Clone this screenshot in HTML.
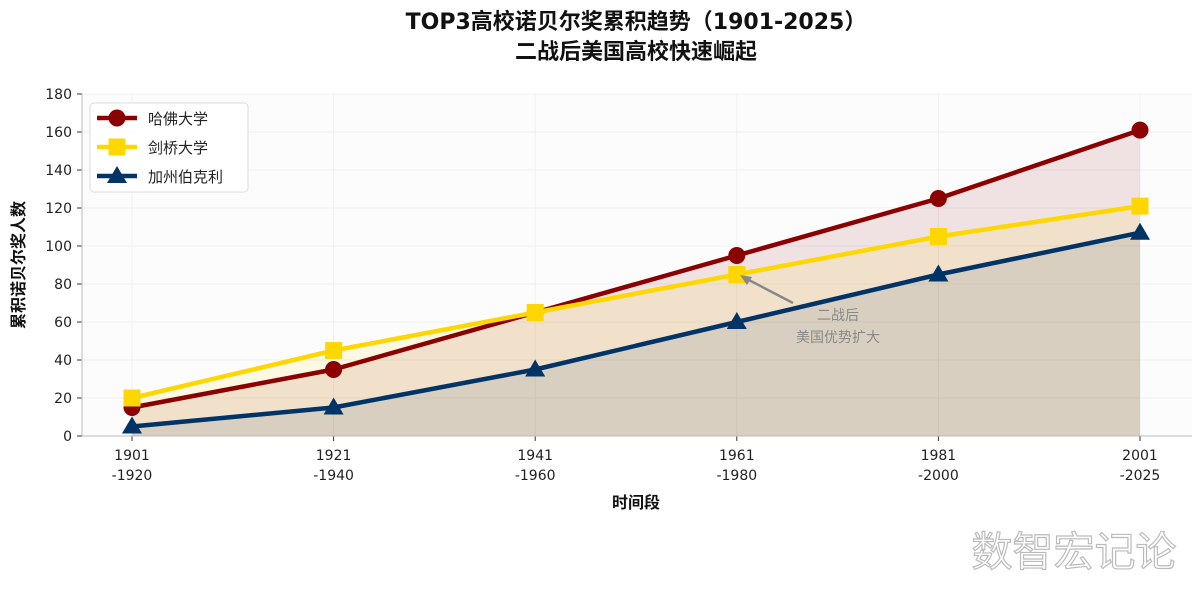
<!DOCTYPE html>
<html><head><meta charset="utf-8"><style>
body{margin:0;background:#fff;}
svg text{font-family:"DejaVu Sans","Noto Sans CJK SC",sans-serif;}
</style></head><body>
<svg id="c" width="1200" height="600" xmlns="http://www.w3.org/2000/svg">
<text x="636" y="29" text-anchor="middle" font-size="22" font-weight="bold" fill="#111">TOP3高校诺贝尔奖累积趋势（1901-2025）</text>
<text x="636" y="59" text-anchor="middle" font-size="22" font-weight="bold" fill="#111">二战后美国高校快速崛起</text>
<rect x="82" y="94" width="1110" height="342" fill="#fcfcfc"/>
<g id="grid"></g><g id="fills"></g><g id="lines"></g><g id="axes"></g>
<text x="24" y="265" text-anchor="middle" font-size="16" font-weight="bold" fill="#111" transform="rotate(-90 24 265)">累积诺贝尔奖人数</text>
<text x="636" y="508" text-anchor="middle" font-size="16" font-weight="bold" fill="#111">时间段</text>
<g>
<line x1="793" y1="303" x2="745" y2="278" stroke="#888" stroke-width="2.5"/>
<polygon points="740,275 752,277 747,285" fill="#888"/>
<text x="838" y="320" text-anchor="middle" font-size="14" fill="#888">二战后</text>
<text x="838" y="342" text-anchor="middle" font-size="14" fill="#888">美国优势扩大</text>
</g>
<rect x="90" y="103" width="158" height="89" rx="4" fill="#fff" fill-opacity="0.9" stroke="#ddd"/>
<g id="legend"></g>
<text x="1074" y="566" text-anchor="middle" font-size="41" fill="#fff" stroke="#bbb" stroke-width="1.2">数智宏记论</text>
</svg>
<script>
const categories=["1901\n-1920","1921\n-1940","1941\n-1960","1961\n-1980","1981\n-2000","2001\n-2025"];
const harvard=[15,35,65,95,125,161];
const cambridge=[20,45,65,85,105,121];
const berkeley=[5,15,35,60,85,107];
const seriesNames=["哈佛大学","剑桥大学","加州伯克利"];
const yTicks=[0,20,40,60,80,100,120,140,160,180];
const NS="http://www.w3.org/2000/svg";
const X=i=>132+i*201.6, Y=v=>436-v*1.9;
function mk(tag,a,p){const e=document.createElementNS(NS,tag);for(const k in a)e.setAttribute(k,a[k]);document.getElementById(p).appendChild(e);return e;}
yTicks.forEach(t=>{const g=mk('line',{x1:82,x2:1192,y1:Y(t),y2:Y(t),stroke:'#f0f0f0','stroke-width':1},'grid');

const tk=mk('line',{x1:77,x2:82,y1:Y(t),y2:Y(t),stroke:'#333'},'axes');

const tx=mk('text',{x:72,y:Y(t)+5,'text-anchor':'end','font-size':14,fill:'#222'},'axes');tx.textContent=t;
});
categories.forEach((c,i)=>{const g=mk('line',{x1:X(i),x2:X(i),y1:94,y2:436,stroke:'#f0f0f0'},'grid');

const tk=mk('line',{x1:X(i),x2:X(i),y1:436,y2:441,stroke:'#333'},'axes');

c.split('\n').forEach((s,j)=>{const tx=mk('text',{x:X(i),y:460+j*20,'text-anchor':'middle','font-size':14,fill:'#222'},'axes');tx.textContent=s;
});});
const al=mk('line',{x1:82,x2:82,y1:94,y2:436,stroke:'#bbb'},'axes');
const ab=mk('line',{x1:82,x2:1192,y1:436,y2:436,stroke:'#bbb'},'axes');
const series=[[harvard,'#8B0000','circle','harvard'],[cambridge,'#FFD700','square','cambridge'],[berkeley,'#003366','tri','berkeley']];
function marker(x,y,shape,col,p,name){let e;
if(shape=='circle')e=mk('circle',{cx:x,cy:y,r:8.5,fill:col},p);
else if(shape=='square')e=mk('rect',{x:x-8.5,y:y-8.5,width:17,height:17,fill:col},p);
else e=mk('polygon',{points:`${x},${y-10} ${x+10},${y+7} ${x-10},${y+7}`,fill:col},p);
}
series.forEach(([d,col,sh,nm])=>{
const pts=d.map((v,i)=>X(i)+','+Y(v)).join(' ');
const f=mk('polygon',{points:`${X(0)},436 ${pts} ${X(d.length-1)},436`,fill:col,'fill-opacity':0.1},'fills');

const l=mk('polyline',{points:pts,fill:'none',stroke:col,'stroke-width':4.5,'stroke-linejoin':'round'},'lines');

d.forEach((v,i)=>marker(X(i),Y(v),sh,col,'lines',nm+'-point'));});
series.forEach(([d,col,sh,nm],k)=>{const y=118+k*29;
const l=mk('line',{x1:97,x2:137,y1:y,y2:y,stroke:col,'stroke-width':4.5},'legend');

marker(117,y,sh,col,'legend','legend-marker');
const t=mk('text',{x:148,y:y+6,'font-size':15,fill:'#222'},'legend');t.textContent=seriesNames[k];
});
</script>
</body></html>
